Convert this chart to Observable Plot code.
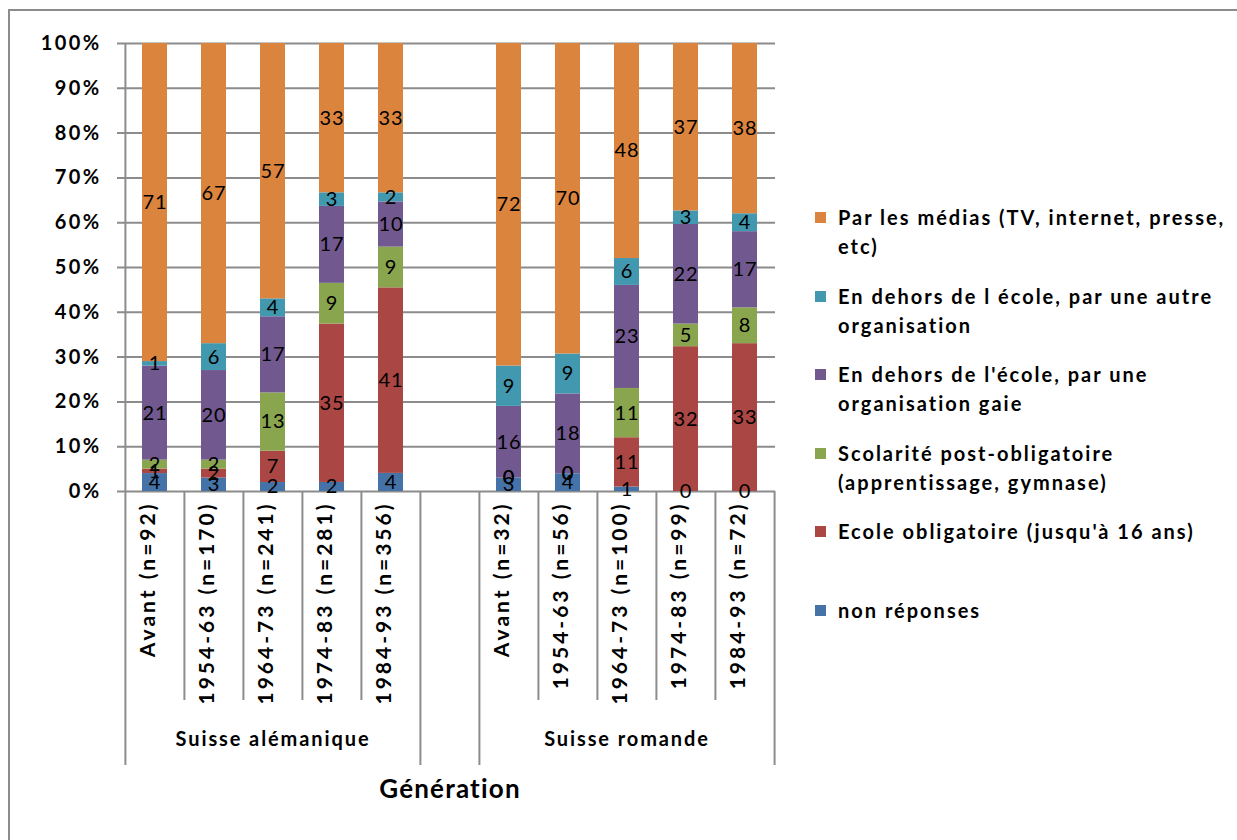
<!DOCTYPE html>
<html>
<head>
<meta charset="utf-8">
<script src="https://cdn.jsdelivr.net/npm/d3@7"></script>
<script src="https://cdn.jsdelivr.net/npm/@observablehq/plot@0.6"></script>
<style>
  html, body { margin: 0; padding: 0; background: #fff; }
  #wrap { position: relative; width: 1237px; height: 840px; overflow: hidden; font-family: Lato, "Open Sans", sans-serif; }
  #border { position: absolute; left: 8px; top: 9px; width: 1260px; height: 860px; border-left: 2px solid #8c8c8c; border-top: 2px solid #8c8c8c; box-sizing: border-box; }
  #chart { position: absolute; left: 0; top: 0; }
  .legend-item { position: absolute; left: 812px; font-weight: 700; font-size: 20px; letter-spacing: 2px; line-height: 29px; color: #000; white-space: nowrap; }
  .legend-item .sw { position: absolute; left: 3px; top: 9px; width: 11px; height: 11px; }
  .legend-item .lbl { position: absolute; left: 26px; top: 0; }
</style>
</head>
<body>
<div id="wrap">
  <div id="border"></div>
  <div id="chart"></div>
  <div id="legend"></div>
</div>
<script>
// ---- data ----
const regions = ["Suisse alémanique", "Suisse romande"];
const categoriesSA = ["Avant (n=92)", "1954-63 (n=170)", "1964-73 (n=241)", "1974-83 (n=281)", "1984-93 (n=356)"];
const categoriesSR = ["Avant (n=32)", "1954-63 (n=56)", "1964-73 (n=100)", "1974-83 (n=99)", "1984-93 (n=72)"];
const gapCategory = "";
const series = [
  "non réponses",
  "Ecole obligatoire (jusqu'à 16 ans)",
  "Scolarité post-obligatoire (apprentissage, gymnase)",
  "En dehors de l'école, par une organisation gaie",
  "En dehors de l école, par une autre organisation",
  "Par les médias (TV, internet, presse, etc)"
];
const colors = ["#4572A7", "#AA4643", "#89A54E", "#71588F", "#4198AF", "#DB843D"];
// values per series, SA categories then SR categories
const nonReponses     = [4, 3, 2, 2, 4,   3, 4, 1, 0, 0];
const ecoleOblig      = [1, 2, 7, 35, 41, 0, 0, 11, 32, 33];
const postOblig       = [2, 2, 13, 9, 9,  0, 0, 11, 5, 8];
const orgGaie         = [21, 20, 17, 17, 10, 16, 18, 23, 22, 17];
const orgAutre        = [1, 6, 4, 3, 2,   9, 9, 6, 3, 4];
const medias          = [71, 67, 57, 33, 33, 72, 70, 48, 37, 38];
const yTicks = [0, 0.1, 0.2, 0.3, 0.4, 0.5, 0.6, 0.7, 0.8, 0.9, 1];
const axisTitle = "Génération";
const legendLines = [
  ["Par les médias (TV, internet, presse,", "etc)"],
  ["En dehors de l école, par une autre", "organisation"],
  ["En dehors de l'école, par une", "organisation gaie"],
  ["Scolarité post-obligatoire", "(apprentissage, gymnase)"],
  ["Ecole obligatoire (jusqu'à 16 ans)"],
  ["non réponses"]
];

// ---- build table ----
const barCats = [...categoriesSA, ...categoriesSR];
const domain = [...categoriesSA, gapCategory, ...categoriesSR];
const seriesValues = [nonReponses, ecoleOblig, postOblig, orgGaie, orgAutre, medias];
const rows = [];
series.forEach((s, si) => {
  barCats.forEach((c, ci) => rows.push({cat: c, series: s, value: seriesValues[si][ci]}));
});

// ---- layout ----
const W = 1237, H = 840;
const mL = 124, mR = 462, mT = 43, mB = 349;
const plotW = W - mL - mR;
const step = plotW / domain.length;
const plotH = H - mT - mB;
const grey = "#8c8c8c";
const font = "Lato, 'Open Sans', sans-serif";

const longLeft = [categoriesSA[0], gapCategory, categoriesSR[0]];
const shortLeft = [...categoriesSA.slice(1), ...categoriesSR.slice(1)];
const rightEnd = [categoriesSR[categoriesSR.length - 1]];

const stackOpts = {x: "cat", y: "value", z: "series", order: series, offset: "normalize"};

const spacing = {
  "y-tick-labels": "2.4px",
  "data-labels": "0.8px",
  "category-labels": "3px",
  "region-labels": "1.9px",
  "axis-title": "1.2px"
};

const chart = Plot.plot({
  width: W,
  height: H,
  marginLeft: mL,
  marginRight: mR,
  marginTop: mT,
  marginBottom: mB,
  style: {fontFamily: font, background: "transparent", overflow: "visible"},
  x: {type: "band", domain, paddingInner: 0.57, paddingOuter: 0.285, axis: null},
  y: {domain: [0, 1], axis: null},
  color: {domain: series, range: colors},
  marks: [
    // gridlines with small left ticks
    Plot.ruleY(yTicks, {y: d => d, stroke: grey, strokeWidth: 2, insetLeft: -7}),
    // y tick labels
    Plot.text(yTicks, {y: d => d, text: d => `${Math.round(d * 100)}%`, frameAnchor: "left", dx: -23, textAnchor: "end", fontSize: 20, fontWeight: 700, fill: "#000", ariaDescription: "y-tick-labels"}),
    // bars
    Plot.barY(rows, {...stackOpts, fill: "series"}),
    // data labels
    Plot.text(rows, Plot.stackY({...stackOpts, text: "value", fontSize: 20, fill: "#000", ariaDescription: "data-labels"})),
    // category divider lines
    Plot.ruleX([categoriesSA[0]], {x: d => d, dx: -step / 2, stroke: grey, strokeWidth: 2, insetBottom: -274}),
    Plot.ruleX(longLeft.slice(1), {x: d => d, dx: -step / 2, stroke: grey, strokeWidth: 2, insetTop: plotH, insetBottom: -274}),
    Plot.ruleX(rightEnd, {x: d => d, dx: step / 2, stroke: grey, strokeWidth: 2, insetTop: plotH, insetBottom: -274}),
    Plot.ruleX(shortLeft, {x: d => d, dx: -step / 2, stroke: grey, strokeWidth: 2, insetTop: plotH, insetBottom: -209}),
    // category labels (rotated)
    Plot.text(barCats, {x: d => d, text: d => d, frameAnchor: "bottom", rotate: -90, textAnchor: "end", dy: 10, fontSize: 21, fontWeight: 700, fill: "#000", ariaDescription: "category-labels"}),
    // region labels
    Plot.text(regions, {x: (d, i) => (i === 0 ? categoriesSA : categoriesSR)[2], text: d => d, frameAnchor: "bottom", dy: 254, fontSize: 20, fontWeight: 700, fill: "#000", ariaDescription: "region-labels"}),
    // axis title
    Plot.text([axisTitle], {x: () => gapCategory, text: d => d, frameAnchor: "bottom", dy: 306, fontSize: 26, fontWeight: 700, fill: "#000", ariaDescription: "axis-title"})
  ]
});
document.getElementById("chart").appendChild(chart);

// letter spacing per text group (fallback: by mark order)
const textGroups = Array.from(chart.querySelectorAll("g")).filter(g => g.parentNode === chart && g.querySelector("text"));
const orderKeys = ["y-tick-labels", "data-labels", "category-labels", "region-labels", "axis-title"];
textGroups.forEach((g, i) => {
  const key = g.getAttribute("aria-description") || orderKeys[i];
  if (spacing[key]) g.querySelectorAll("text").forEach(t => t.style.letterSpacing = spacing[key]);
});

// ---- legend ----
const legend = document.getElementById("legend");
const legendOrder = [5, 4, 3, 2, 1, 0];
legendOrder.forEach((si, i) => {
  const item = document.createElement("div");
  item.className = "legend-item";
  item.style.top = (203 + i * 78.6) + "px";
  const sw = document.createElement("div");
  sw.className = "sw";
  sw.style.background = colors[si];
  const lbl = document.createElement("div");
  lbl.className = "lbl";
  lbl.innerHTML = legendLines[i].map(t => t.replace(/&/g, "&amp;").replace(/</g, "&lt;")).join("<br>");
  item.appendChild(sw);
  item.appendChild(lbl);
  legend.appendChild(item);
});
</script>
</body>
</html>
